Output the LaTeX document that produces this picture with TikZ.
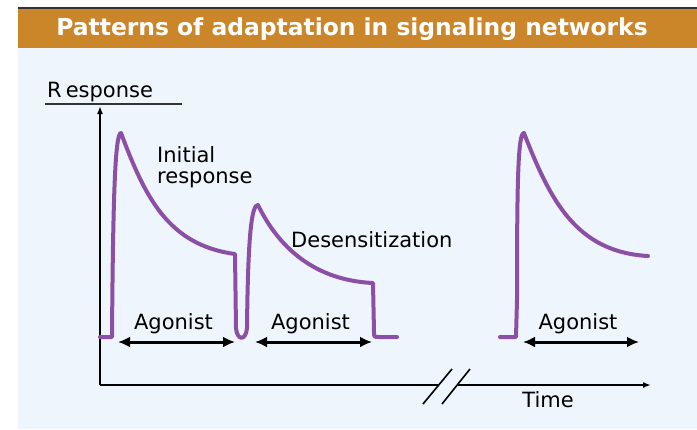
\documentclass[tikz,border=0pt]{standalone}
\usepackage{fontspec}
\setmainfont{DejaVu Sans}
\usetikzlibrary{positioning,arrows.meta}

\definecolor{hdrorange}{RGB}{204,134,42}
\definecolor{panelblue}{RGB}{238,245,252}
\definecolor{curvepurple}{RGB}{139,79,165}

\begin{document}
\begin{tikzpicture}[x=1pt,y=-1pt,
	lbl/.style={font=\fontsize{21}{25}\selectfont, inner sep=0pt},
	axis/.style={line width=1.6pt, black},
	trace/.style={line width=4pt, curvepurple, line join=round, line cap=round},
	agon/.style={line width=3pt, {Latex[length=12pt,width=11pt]}-{Latex[length=12pt,width=11pt]}}
	]
	\useasboundingbox (0,0) rectangle (697,429);

	% panel
	\fill[panelblue] (18,48) rectangle (697,429);
	\fill[hdrorange] (18,9) rectangle (697,48);
	\fill[black!80] (18,7) rectangle (697,9);
	\node (title) at (352,29) [font=\fontsize{23.4}{27}\selectfont\bfseries, text=white, inner sep=0pt] {Patterns of adaptation in signaling networks};

	% axes
	\coordinate (orig) at (100,385);
	\coordinate (ytip) at (100,106);
	\coordinate (brkL) at (438,385);
	\coordinate (brkR) at (458,385);
	\coordinate (xtip) at (651,385);

	\node (resp) [lbl, anchor=base west] at (47,97) {R\kern4pt esponse};
	\draw[line width=2pt, black!80] (45,104) -- (182,104);

	\draw[axis, -{Latex[length=8pt,width=6pt]}] (orig) -- (ytip);
	\draw[axis] (orig) -- (brkL);
	\draw[axis, -{Latex[length=8pt,width=6pt]}] (brkR) -- (xtip);
	\draw[axis] (423,404) -- (452,369);
	\draw[axis] (442,404) -- (470,369);
	\node (time) [lbl, anchor=base] at (548,407) {Time};

	% responses
	\draw[trace] (100,337) -- (112,337)
		.. controls (113,200) and (115,133) .. (121,133)
		.. controls (145,197) and (168,245) .. (235,254)
		-- (236,328) .. controls (237,341) and (246,341) .. (247,328)
		.. controls (248,230) and (252,205) .. (258,205)
		.. controls (275,240) and (308,280) .. (373,283)
		-- (374,332) .. controls (374,337) .. (379,337) -- (397,337);

	\draw[trace] (500,337) -- (516,337) -- (517,300)
		.. controls (517,180) and (518,133) .. (524,133)
		.. controls (550,200) and (576,252) .. (648,256);

	\node (init) [lbl, anchor=base west, align=left] at (157,162) {Initial};
	\node (initb) [lbl, anchor=base west] at (157,183) {response};
	\node (desens) [lbl, anchor=base west] at (291,247) {Desensitization};

	% agonist intervals
	\coordinate (a1l) at (118,342);
	\coordinate (a1r) at (235,342);
	\coordinate (a2l) at (255,342);
	\coordinate (a2r) at (372,342);
	\coordinate (a3l) at (523,342);
	\coordinate (a3r) at (639,342);

	\draw[agon] (a1l) -- node (ag1) [lbl, above=7pt, xshift=-3pt] {Agonist} (a1r);
	\draw[agon] (a2l) -- node (ag2) [lbl, above=7pt, xshift=-3pt] {Agonist} (a2r);
	\draw[agon] (a3l) -- node (ag3) [lbl, above=7pt, xshift=-3pt] {Agonist} (a3r);

\end{tikzpicture}
\end{document}
